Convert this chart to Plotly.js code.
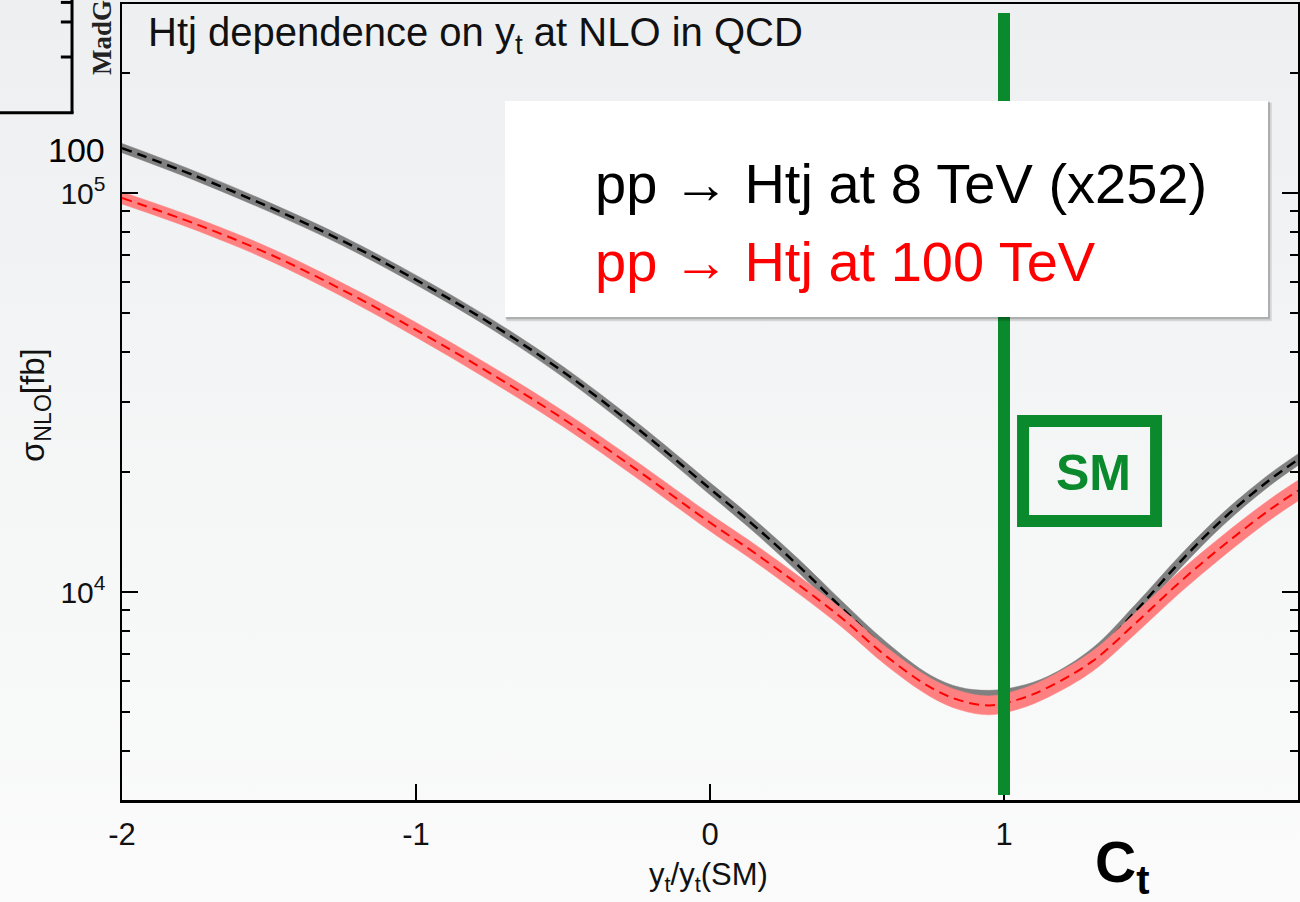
<!DOCTYPE html>
<html>
<head>
<meta charset="utf-8">
<script src="https://cdn.plot.ly/plotly-3.0.1.min.js"></script>
<style>
  html, body { margin: 0; padding: 0; }
  body { width: 1300px; height: 902px; background: linear-gradient(to bottom, #eeeff1 0%, #f5f6f6 55%, #fbfbfb 100%); overflow: hidden; }
  #chart { width: 1300px; height: 902px; }
</style>
</head>
<body>
<div id="chart"></div>
<script>
// ---- data ----
const ctValues = [-2.0, -1.75, -1.5, -1.25, -1.0, -0.75, -0.5, -0.25, 0.0, 0.15, 0.3, 0.45, 0.6, 0.75, 0.85, 0.95, 1.05, 1.15, 1.3, 1.45, 1.6, 1.75, 1.9, 2.0];
// pp -> Htj at 8 TeV (x252), sigma NLO [fb]
const sigma8TeV = [129600, 110300, 92250, 75850, 60560, 47270, 35640, 25810, 18150, 14670, 11650, 9093, 7180, 5935, 5537, 5442, 5569, 5901, 6935, 8988, 11920, 15360, 19010, 21460];
// relative half width of the 8 TeV uncertainty band
const band8TeV = [0.027, 0.027, 0.027, 0.027, 0.028, 0.029, 0.031, 0.033, 0.036, 0.038, 0.040, 0.041, 0.042, 0.042, 0.042, 0.042, 0.042, 0.042, 0.042, 0.041, 0.039, 0.037, 0.035, 0.034];
// pp -> Htj at 100 TeV, sigma NLO [fb]
const sigma100TeV = [97160, 83640, 70360, 57170, 45400, 35430, 27180, 20260, 14930, 12560, 10440, 8584, 6896, 5766, 5350, 5198, 5381, 5766, 6699, 8388, 10620, 13150, 16000, 17950];
const band100TeV = [0.035, 0.036, 0.038, 0.040, 0.043, 0.045, 0.046, 0.048, 0.050, 0.051, 0.052, 0.053, 0.054, 0.055, 0.056, 0.056, 0.057, 0.058, 0.060, 0.063, 0.064, 0.063, 0.062, 0.061];

const xTickVals = [-2, -1, 0, 1, 2];
const xTickText = ['-2', '-1', '0', '1', '2'];
const yTickVals = [1e4, 1e5];
const yTickText = ['10<sup>4</sup>', '10<sup>5</sup>'];
const yMinorVals = [4000, 5000, 6000, 7000, 8000, 9000, 20000, 30000, 40000, 50000, 60000, 70000, 80000, 90000, 200000];
const smValue = 1;

const legendLines = ['pp \u2192 Htj at 8 TeV (x252)', 'pp \u2192 Htj at 100 TeV'];
const titleText = 'Htj dependence on y<sub>t</sub> at NLO in QCD';

// ---- build traces ----
function upper(v, b) { return v.map((y, i) => y * (1 + b[i])); }
function lower(v, b) { return v.map((y, i) => y / (1 + b[i])); }

const FONT = 'Liberation Sans, Arial, Helvetica, sans-serif';
const SM_LINE = { shape: 'spline', smoothing: 1 };

const traces = [
  { x: ctValues, y: upper(sigma8TeV, band8TeV), mode: 'lines', line: Object.assign({ color: '#808080', width: 0.5 }, SM_LINE), hoverinfo: 'skip', showlegend: false },
  { x: ctValues, y: lower(sigma8TeV, band8TeV), mode: 'lines', fill: 'tonexty', fillcolor: '#808080', line: Object.assign({ color: '#808080', width: 0.5 }, SM_LINE), hoverinfo: 'skip', showlegend: false },
  { x: ctValues, y: sigma8TeV, mode: 'lines', line: Object.assign({ color: '#000000', width: 2.5, dash: '10px,6px' }, SM_LINE), showlegend: false },
  { x: ctValues, y: upper(sigma100TeV, band100TeV), mode: 'lines', line: Object.assign({ color: '#ff8080', width: 0.5 }, SM_LINE), hoverinfo: 'skip', showlegend: false },
  { x: ctValues, y: lower(sigma100TeV, band100TeV), mode: 'lines', fill: 'tonexty', fillcolor: '#ff8080', line: Object.assign({ color: '#ff8080', width: 0.5 }, SM_LINE), hoverinfo: 'skip', showlegend: false },
  { x: ctValues, y: sigma100TeV, mode: 'lines', line: Object.assign({ color: '#ff0000', width: 2, dash: '10px,6px' }, SM_LINE), showlegend: false }
];

const GREEN = '#0a892d';

const shapes = [
  // SM vertical line
  { type: 'line', xref: 'x', yref: 'paper', x0: smValue, x1: smValue, y0: 0.0063, y1: 0.9887, line: { color: GREEN, width: 12 }, layer: 'above' },
  // SM box
  { type: 'rect', xref: 'paper', yref: 'paper', x0: 0.7662, x1: 0.8793, y0: 0.3505, y1: 0.4761, line: { color: GREEN, width: 12 }, fillcolor: 'rgba(0,0,0,0)', layer: 'above' },
  // legend shadow
  { type: 'rect', xref: 'paper', yref: 'paper', x0: 0.3270, x1: 0.9777, y0: 0.6015, y1: 0.8760, line: { width: 0 }, fillcolor: 'rgba(0,0,0,0.12)', layer: 'above' },
  { type: 'rect', xref: 'paper', yref: 'paper', x0: 0.3262, x1: 0.9762, y0: 0.6040, y1: 0.8772, line: { width: 0 }, fillcolor: 'rgba(0,0,0,0.18)', layer: 'above' },
  // legend box
  { type: 'rect', xref: 'paper', yref: 'paper', x0: 0.3257, x1: 0.9745, y0: 0.6068, y1: 0.8781, line: { width: 0 }, fillcolor: '#ffffff', layer: 'above' },
  // partial frame of a neighbouring panel (top-left)
  { type: 'line', xref: 'paper', yref: 'paper', x0: -0.0425, x1: -0.0425, y0: 1.006, y1: 0.863, line: { color: '#000', width: 3 } },
  { type: 'line', xref: 'paper', yref: 'paper', x0: -0.1040, x1: -0.0412, y0: 0.8635, y1: 0.8635, line: { color: '#000', width: 3 } },
  { type: 'line', xref: 'paper', yref: 'paper', x0: -0.0520, x1: -0.0425, y0: 1.0020, y1: 1.0020, line: { color: '#000', width: 3 } },
  { type: 'line', xref: 'paper', yref: 'paper', x0: -0.0520, x1: -0.0425, y0: 0.9774, y1: 0.9774, line: { color: '#000', width: 3 } },
  { type: 'line', xref: 'paper', yref: 'paper', x0: -0.0520, x1: -0.0425, y0: 0.9334, y1: 0.9334, line: { color: '#000', width: 3 } }
];

const annotations = [
  { xref: 'paper', yref: 'paper', x: 0.0205, y: 0.961, xanchor: 'left', yanchor: 'middle', showarrow: false, text: titleText, font: { family: FONT, size: 40, color: '#111' } },
  { xref: 'paper', yref: 'paper', x: 0.4005, y: 0.775, xanchor: 'left', yanchor: 'middle', showarrow: false, text: legendLines[0], font: { family: FONT, size: 56, color: '#000' } },
  { xref: 'paper', yref: 'paper', x: 0.4005, y: 0.677, xanchor: 'left', yanchor: 'middle', showarrow: false, text: legendLines[1], font: { family: FONT, size: 56, color: '#ff0000' } },
  { xref: 'paper', yref: 'paper', x: 0.8257, y: 0.4108, xanchor: 'center', yanchor: 'middle', showarrow: false, text: '<b>SM</b>', font: { family: FONT, size: 50, color: GREEN } },
  { xref: 'paper', yref: 'paper', x: 0.4991, y: -0.0965, xanchor: 'center', yanchor: 'middle', showarrow: false, text: 'y<sub>t</sub>/y<sub>t</sub>(SM)', font: { family: FONT, size: 31, color: '#111' } },
  { xref: 'paper', yref: 'paper', x: 0.8503, y: -0.083, xanchor: 'center', yanchor: 'middle', showarrow: false, text: '<b>C<sub>t</sub></b>', font: { family: FONT, size: 57, color: '#000' } },
  { xref: 'paper', yref: 'paper', x: -0.074, y: 0.4962, xanchor: 'center', yanchor: 'middle', showarrow: false, textangle: -90, text: '\u03c3<sub>NLO</sub>[fb]', font: { family: FONT, size: 33, color: '#111' } },
  { xref: 'paper', yref: 'paper', x: -0.0383, y: 0.8166, xanchor: 'center', yanchor: 'middle', showarrow: false, text: '100', font: { family: FONT, size: 34, color: '#000' } },
  { xref: 'paper', yref: 'paper', x: -0.0170, y: 0.9083, xanchor: 'center', yanchor: 'bottom', showarrow: false, textangle: -90, text: '<b>MadGraph5_aMC@NLO</b>', font: { family: 'Liberation Serif, Times New Roman, serif', size: 27, color: '#222' } }
];

const layout = {
  width: 1300, height: 902,
  margin: { l: 122, r: 2, t: 4, b: 102 },
  paper_bgcolor: 'rgba(0,0,0,0)',
  plot_bgcolor: 'rgba(0,0,0,0)',
  showlegend: false,
  font: { family: FONT, color: '#111' },
  xaxis: {
    range: [-2, 2], tickvals: xTickVals, ticktext: xTickText,
    ticks: 'inside', ticklen: 16, tickwidth: 2, tickcolor: '#000',
    showline: true, linecolor: '#000', linewidth: 2.5, mirror: true,
    showgrid: false, zeroline: false,
    tickfont: { family: FONT, size: 31, color: '#111' },
    ticklabelstandoff: 5
  },
  yaxis: {
    type: 'log', range: [3.4787, 5.4737],
    tickvals: yTickVals, ticktext: yTickText,
    ticks: 'inside', ticklen: 16, tickwidth: 2, tickcolor: '#000',
    minor: { tickvals: yMinorVals, ticks: 'inside', ticklen: 8, tickwidth: 2, tickcolor: '#000', showgrid: false },
    showline: true, linecolor: '#000', linewidth: 2.5, mirror: 'ticks',
    showgrid: false, zeroline: false,
    tickfont: { family: FONT, size: 30, color: '#111' },
    ticklabelstandoff: 8
  },
  shapes: shapes,
  annotations: annotations
};

Plotly.newPlot('chart', traces, layout, { displayModeBar: false, staticPlot: true });
</script>
</body>
</html>
